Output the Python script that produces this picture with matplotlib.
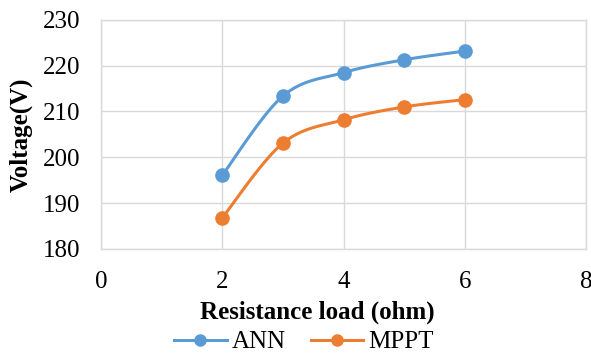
import matplotlib
matplotlib.use("Agg")
import matplotlib.pyplot as plt
import numpy as np

# data
load = [2, 3, 4, 5, 6]
ann = [196.1, 213.4, 218.5, 221.3, 223.2]
mppt = [186.8, 203.1, 208.2, 211.0, 212.6]

plt.rcParams['font.family'] = ['Liberation Serif', 'DejaVu Serif']


def smooth(xs, ys, n=30):
    # Excel style smoothed line (Catmull-Rom through the points)
    xs = np.asarray(xs, float)
    ys = np.asarray(ys, float)
    px = np.concatenate([[xs[0]], xs, [xs[-1]]])
    py = np.concatenate([[ys[0]], ys, [ys[-1]]])
    ox, oy = [], []
    for i in range(1, len(px) - 2):
        p0 = np.array([px[i], py[i]])
        p3 = np.array([px[i + 1], py[i + 1]])
        c1 = p0 + (np.array([px[i + 1], py[i + 1]]) - np.array([px[i - 1], py[i - 1]])) / 6
        c2 = p3 - (np.array([px[i + 2], py[i + 2]]) - np.array([px[i], py[i]])) / 6
        t = np.linspace(0, 1, n)[:, None]
        b = (1 - t) ** 3 * p0 + 3 * (1 - t) ** 2 * t * c1 + 3 * (1 - t) * t ** 2 * c2 + t ** 3 * p3
        ox.extend(b[:, 0])
        oy.extend(b[:, 1])
    return ox, oy


fig = plt.figure(figsize=(5.91, 3.56), dpi=100)
ax = fig.add_axes([0.171, 0.301, 0.821, 0.643])

for ys, col, name in [(ann, '#5B9BD5', 'ANN'), (mppt, '#ED7D31', 'MPPT')]:
    sx, sy = smooth(load, ys)
    ax.plot(sx, sy, color=col, lw=2.2, zorder=3)
    ax.plot(load, ys, 'o', color=col, ms=9.5, zorder=4)
    ax.plot([], [], '-o', color=col, lw=2.2, ms=8, label=name)

ax.set_xlim(0, 8)
ax.set_ylim(180, 230)
ax.set_xticks([0, 2, 4, 6, 8])
ax.set_yticks(range(180, 231, 10))
ax.grid(True, color='#d9d9d9', lw=1)
ax.set_axisbelow(True)
for s in ax.spines.values():
    s.set_color('#d9d9d9')
    s.set_linewidth(1)
ax.tick_params(length=0, labelsize=18)
ax.tick_params(axis='y', pad=15)
ax.tick_params(axis='x', pad=16)

ax.set_xlabel('Resistance load (ohm)', fontsize=18, fontweight='bold', va='center')
ax.xaxis.set_label_coords(0.445, -0.275)
ax.set_ylabel('Voltage(V)', fontsize=18, fontweight='bold', va='center')
ax.yaxis.set_label_coords(-0.164, 0.5)

fig.legend(loc='center', bbox_to_anchor=(0.514, 0.039), ncol=2, frameon=False,
           fontsize=18, handlelength=2.1, columnspacing=1.0, handletextpad=0.2,
           borderpad=0, borderaxespad=0)

fig.savefig('out.png', dpi=100)
